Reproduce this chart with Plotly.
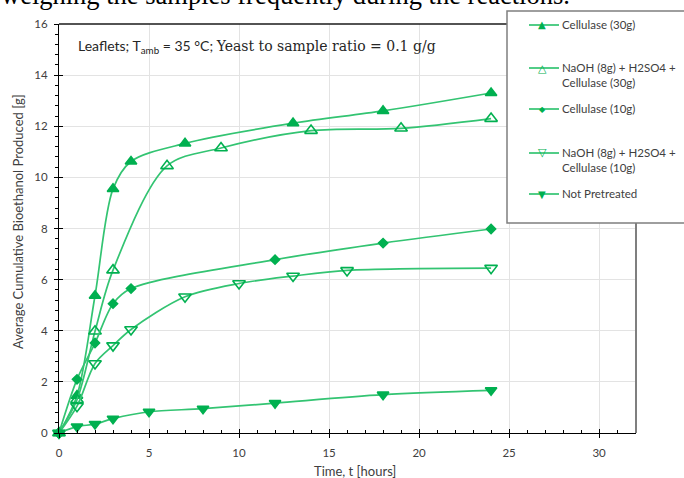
import plotly.graph_objects as go

# ---------------- data ----------------
t_cell30 = [0, 1, 2, 3, 4, 7, 13, 18, 24]
y_cell30 = [0, 1.46, 5.37, 9.55, 10.62, 11.33, 12.12, 12.6, 13.3]

t_naoh30 = [0, 1, 2, 3, 6, 9, 14, 19, 24]
y_naoh30 = [0, 1.3, 3.98, 6.37, 10.45, 11.15, 11.83, 11.92, 12.3]

t_cell10 = [0, 1, 2, 3, 4, 12, 18, 24]
y_cell10 = [0, 2.1, 3.52, 5.06, 5.65, 6.78, 7.43, 7.98]

t_naoh10 = [0, 1, 2, 3, 4, 7, 10, 13, 16, 24]
y_naoh10 = [0, 1.05, 2.72, 3.42, 4.05, 5.33, 5.85, 6.14, 6.36, 6.45]

t_np = [0, 1, 2, 3, 5, 8, 12, 18, 24]
y_np = [0, 0.25, 0.35, 0.56, 0.83, 0.95, 1.17, 1.5, 1.67]

names = ["Cellulase (30g)",
         "NaOH (8g) + H2SO4 +<br>Cellulase (30g)",
         "Cellulase (10g)",
         "NaOH (8g) + H2SO4 +<br>Cellulase (10g)",
         "Not Pretreated"]

x_ticks = [0, 5, 10, 15, 20, 25, 30]
y_ticks = [0, 2, 4, 6, 8, 10, 12, 14, 16]

# ---------------- layout constants ----------------
L, R, T, B = 59, 636, 24, 433
W, H = R - L, B - T


def px(x):
    return (x - L) / W


def py(y):
    return (B - y) / H


GREEN = "#00B050"
LINE = "#33C472"
TXT = "#404040"
SANS = "Lato, Open Sans, sans-serif"
SERIF = "Liberation Serif, DejaVu Serif, serif"

symbols = ["triangle-up", "triangle-up-open", "diamond", "triangle-down-open", "triangle-down"]
glyphs = ["▲", "△", "◆", "▽", "▼"]
glyph_sizes = [10, 11, 8, 11, 10]
sizes = [10, 11, 7, 11, 10]
series = [(t_cell30, y_cell30), (t_naoh30, y_naoh30), (t_cell10, y_cell10),
          (t_naoh10, y_naoh10), (t_np, y_np)]

fig = go.Figure()
for (t, y), nm, sym, sz in zip(series, names, symbols, sizes):
    fig.add_trace(go.Scatter(
        x=t, y=y, mode="lines+markers", name=nm,
        line=dict(color=LINE, width=1.7, shape="spline", smoothing=0.9),
        marker=dict(symbol=sym, size=sz, color=GREEN,
                    line=dict(color=GREEN, width=1.6)),
        showlegend=False, cliponaxis=False))

# dummy trace for overlay (crossing ticks) axes
fig.add_trace(go.Scatter(x=[None], y=[None], xaxis="x3", yaxis="y3",
                         showlegend=False, hoverinfo="skip"))

# ---------------- frame ----------------
fig.add_shape(type="line", xref="paper", yref="paper", x0=0, x1=px(507), y0=1, y1=1,
              line=dict(color="#1a1a1a", width=1.3), layer="above")
fig.add_shape(type="line", xref="paper", yref="paper", x0=1, x1=1, y0=0, y1=1,
              line=dict(color="#7f7f7f", width=2), layer="above")

# ---------------- manual legend ----------------
fig.add_shape(type="rect", xref="paper", yref="paper",
              x0=px(507), x1=px(700), y0=py(223), y1=py(11),
              line=dict(color="#7f7f7f", width=1.5), fillcolor="white",
              layer="above")

leg_rows = [25, 68, 109, 153, 194]   # px y of first text line
leg_mx = 542
for row, g, gs, nm in zip(leg_rows, glyphs, glyph_sizes, names):
    fig.add_shape(type="line", xref="paper", yref="paper",
                  x0=px(529), x1=px(559), y0=py(row), y1=py(row),
                  line=dict(color=LINE, width=1.7), layer="above")
    fig.add_annotation(xref="paper", yref="paper", x=px(leg_mx), y=py(row),
                       xanchor="center", yanchor="middle", showarrow=False,
                       text=g, font=dict(family="DejaVu Sans", size=gs, color=GREEN),
                       bgcolor="rgba(0,0,0,0)")
    fig.add_annotation(xref="paper", yref="paper", x=px(560), y=py(row - 9),
                       xanchor="left", yanchor="top", align="left",
                       text=nm, showarrow=False,
                       font=dict(family=SANS, size=11.5, color=TXT))

# ---------------- annotations ----------------
fig.add_annotation(
    xref="paper", yref="paper", x=px(76), y=py(47), xanchor="left", yanchor="middle",
    showarrow=False,
    text=("Leaflets; T<sub>amb</sub> = 35 °C; "
          "<span style='font-family:DejaVu Serif'>Yeast to sample ratio = 0.1 g/g</span>"),
    font=dict(family=SANS, size=14, color="#262626"))

fig.add_annotation(
    xref="paper", yref="paper", x=px(-1), y=py(12), xanchor="left", yanchor="bottom",
    showarrow=False, text="weighing the samples frequently during the reactions.",
    font=dict(family=SERIF, size=26.5, color="black"))

# axis titles
fig.add_annotation(
    xref="paper", yref="paper", x=px(355), y=py(471), xanchor="center", yanchor="middle",
    showarrow=False, text="Time, t [hours]", font=dict(family=SANS, size=13, color=TXT))
fig.add_annotation(
    xref="paper", yref="paper", x=px(18), y=py(222), xanchor="center", yanchor="middle",
    showarrow=False, textangle=-90, text="Average Cumulative Bioethanol Produced [g]",
    font=dict(family=SANS, size=13, color=TXT))

axis_common = dict(showline=True, linecolor="black", linewidth=1.2,
                   tickfont=dict(family=SANS, size=11.5, color=TXT),
                   gridcolor="#e3e3e3", gridwidth=1, zeroline=False)

fig.update_layout(
    width=684, height=478,
    margin=dict(l=L, r=684 - R, t=T, b=478 - B, autoexpand=False),
    paper_bgcolor="white", plot_bgcolor="white",
    xaxis=dict(range=[0, 32.05], tickvals=x_ticks, ticks="outside", ticklen=4,
               tickcolor="black", ticklabelstandoff=5,
               minor=dict(dtick=1, tick0=0, ticks="", ticklen=3),
               **axis_common),
    yaxis=dict(range=[0, 16], tickvals=y_ticks, ticks="outside", ticklen=4,
               tickcolor="black", ticklabelstandoff=4,
               minor=dict(dtick=0.4, tick0=0, ticks="outside", ticklen=3, tickcolor="black"),
               **axis_common),
    xaxis3=dict(overlaying="x", anchor="y3", range=[0, 32.05], tickvals=x_ticks,
                ticks="inside", ticklen=4, tickcolor="black", showticklabels=False,
                showgrid=False, zeroline=False, showline=False,
                minor=dict(dtick=1, tick0=0, ticks="inside", ticklen=3, tickcolor="black")),
    yaxis3=dict(overlaying="y", anchor="x3", range=[0, 16], tickvals=y_ticks,
                ticks="inside", ticklen=4, tickcolor="black", showticklabels=False,
                showgrid=False, zeroline=False, showline=False),
)

fig.write_html("out.html")
